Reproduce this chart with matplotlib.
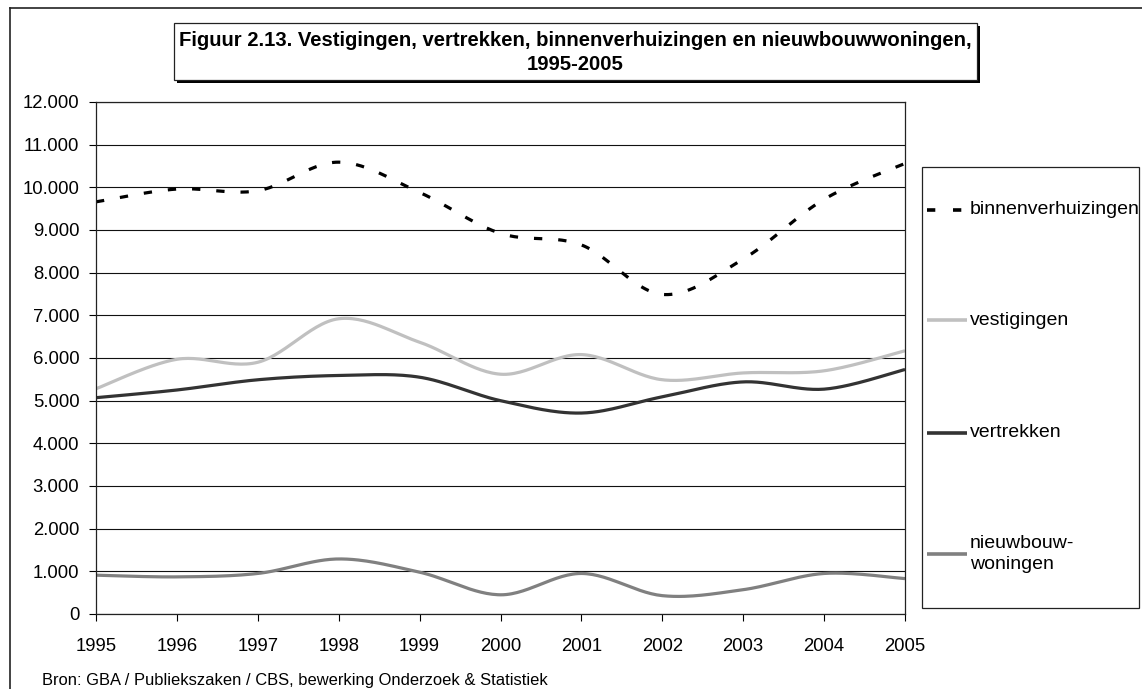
import numpy as np
import matplotlib
matplotlib.use("Agg")
import matplotlib.pyplot as plt
from matplotlib.lines import Line2D
from matplotlib.patches import Rectangle
from matplotlib.ticker import FuncFormatter

plt.rcParams['font.family'] = ['Liberation Sans', 'DejaVu Sans']

# data
years = [1995, 1996, 1997, 1998, 1999, 2000, 2001, 2002, 2003, 2004, 2005]
binnenverhuizingen = [9660, 9960, 9920, 10590, 9880, 8920, 8650, 7490, 8320, 9720, 10560]
vestigingen = [5280, 5970, 5900, 6920, 6370, 5620, 6080, 5490, 5650, 5700, 6170]
vertrekken = [5070, 5250, 5490, 5590, 5550, 5000, 4710, 5090, 5440, 5270, 5730]
nieuwbouw = [910, 870, 950, 1290, 980, 450, 950, 430, 570, 950, 830]

title = "Figuur 2.13. Vestigingen, vertrekken, binnenverhuizingen en nieuwbouwwoningen,\n1995-2005"
source = "Bron: GBA / Publiekszaken / CBS, bewerking Onderzoek & Statistiek"

W, H = 1142, 689


def fx(px):
    return px / W


def fy(py):
    return 1 - py / H


# Excel style smoothed line (bezier through the points)
def smooth(x, y, n=30):
    x = np.asarray(x, float)
    y = np.asarray(y, float)
    px = np.concatenate([[x[0]], x, [x[-1]]])
    py = np.concatenate([[y[0]], y, [y[-1]]])
    t = np.linspace(0, 1, n)[:, None]
    xs, ys = [], []
    for i in range(len(x) - 1):
        p0 = np.array([px[i + 1], py[i + 1]])
        p3 = np.array([px[i + 2], py[i + 2]])
        p1 = p0 + (p3 - np.array([px[i], py[i]])) / 6
        p2 = p3 - (np.array([px[i + 3], py[i + 3]]) - p0) / 6
        b = ((1 - t) ** 3) * p0 + 3 * ((1 - t) ** 2) * t * p1 + 3 * (1 - t) * t ** 2 * p2 + t ** 3 * p3
        xs.append(b[:, 0])
        ys.append(b[:, 1])
    return np.concatenate(xs), np.concatenate(ys)


fig = plt.figure(figsize=(W / 100, H / 100), dpi=100)
ax = fig.add_axes([fx(96), fy(614), fx(905) - fx(96), fy(102) - fy(614)])

series = [
    (binnenverhuizingen, "binnenverhuizingen", "#000000", True),
    (vestigingen, "vestigingen", "#c0c0c0", False),
    (vertrekken, "vertrekken", "#333333", False),
    (nieuwbouw, "nieuwbouw-\nwoningen", "#808080", False),
]

for vals, lab, col, dashed in series:
    sx, sy = smooth(years, vals)
    if dashed:
        ax.plot(sx, sy, color=col, lw=2.3, dashes=(2.6, 5.0), dash_capstyle='butt')
    else:
        ax.plot(sx, sy, color=col, lw=2.3, solid_capstyle='butt')

ax.set_xlim(1995, 2005)
ax.set_ylim(0, 12000)
ax.set_xticks(years)
ax.set_yticks(np.arange(0, 12001, 1000))
ax.yaxis.set_major_formatter(FuncFormatter(lambda v, p: f"{int(v):,}".replace(",", ".")))
ax.grid(axis='y', color='#111111', lw=0.8)
ax.set_axisbelow(True)
ax.tick_params(axis='both', direction='out', length=5, width=0.8, labelsize=13.3, colors='black')
ax.tick_params(axis='y', pad=7)
ax.tick_params(axis='x', pad=12)
for s in ax.spines.values():
    s.set_color('#222222')
    s.set_linewidth(0.9)

# outer frame lines
fig.add_artist(Line2D([fx(10), fx(10)], [fy(8), 0], transform=fig.transFigure, color='#222222', lw=1.2))
fig.add_artist(Line2D([fx(10), 1], [fy(8), fy(8)], transform=fig.transFigure, color='#222222', lw=1.2))

# title box with shadow
bx0, by0, bx1, by1 = 174, 23, 977, 80
fig.add_artist(Rectangle((fx(bx0 + 3), fy(by1 + 3)), fx(bx1 - bx0), fy(by0) - fy(by1),
                         transform=fig.transFigure, facecolor='black', edgecolor='none'))
fig.add_artist(Rectangle((fx(bx0), fy(by1)), fx(bx1 - bx0), fy(by0) - fy(by1),
                         transform=fig.transFigure, facecolor='white', edgecolor='#222222', lw=0.9))
fig.text(fx(575.5), fy(52.5), title, ha='center', va='center', fontsize=14.6,
         fontweight='bold', linespacing=1.4)

# legend box
fig.add_artist(Rectangle((fx(922), fy(608)), fx(1139 - 922), fy(167) - fy(608),
                         transform=fig.transFigure, facecolor='white', edgecolor='#222222', lw=0.9))
leg_y = [210, 320, 433, 554]
for (vals, lab, col, dashed), ly in zip(series, leg_y):
    ln = Line2D([fx(927), fx(967)], [fy(ly), fy(ly)], transform=fig.transFigure, color=col,
                lw=2.6, solid_capstyle='butt', dash_capstyle='butt')
    if dashed:
        ln.set_dashes((2.3, 4.9))
    fig.add_artist(ln)
    fig.text(fx(970), fy(ly), lab, ha='left', va='center', fontsize=14.0, linespacing=1.25)

fig.text(fx(42), fy(680), source, ha='left', va='center', fontsize=11.9)

fig.savefig("out.png", dpi=100)
